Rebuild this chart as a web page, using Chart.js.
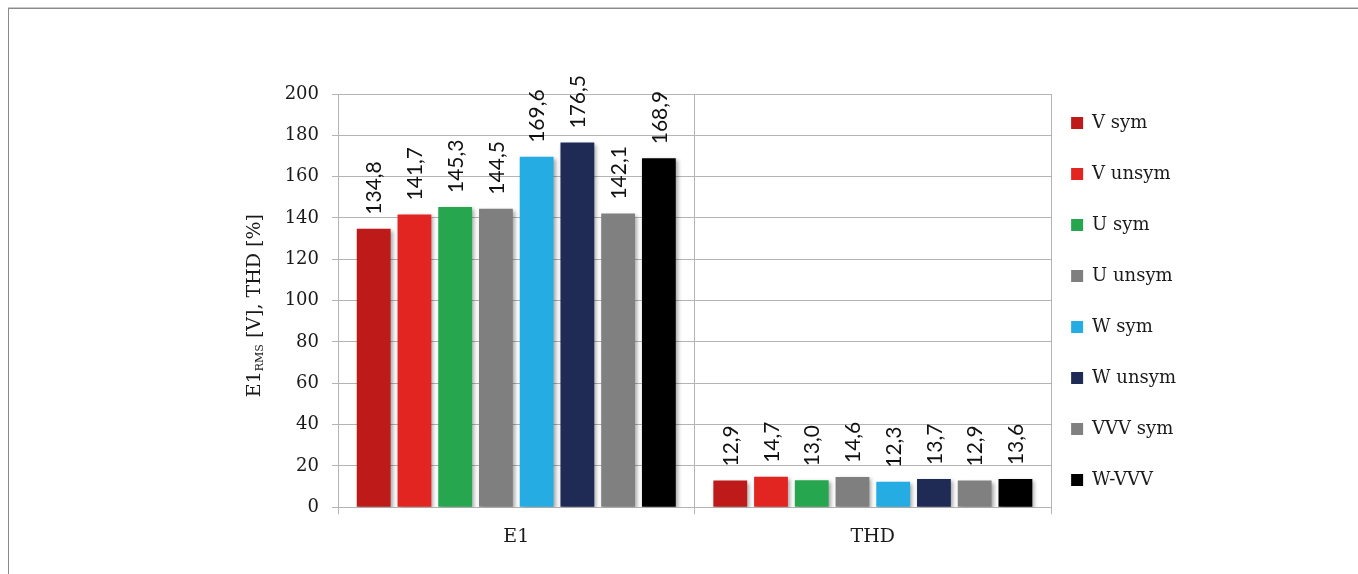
<!DOCTYPE html>
<html>
<head>
<meta charset="utf-8">
<title>E1 RMS and THD</title>
<script src="https://cdn.jsdelivr.net/npm/chart.js@4.4.1/dist/chart.umd.min.js"></script>
<style>
  html, body { margin: 0; padding: 0; background: #ffffff; }
  #wrap { position: relative; width: 1358px; height: 574px; overflow: hidden; }
  #frame { position: absolute; left: 8px; top: 8px; width: 1400px; height: 600px;
           border-top: 1px solid #8a8a8a; border-left: 1px solid #8a8a8a;
           box-shadow: 0 -1px 0 #c8c8c8; }
  #chart { position: absolute; left: 0; top: 0; }
</style>
</head>
<body>
<div id="wrap">
  <div id="frame"></div>
  <canvas id="chart" width="1358" height="574"></canvas>
</div>
<script>
// Categories on the x axis
const categories = ['E1', 'THD'];

// Series: [E1 RMS (V), THD (%)]
const seriesNames = ['V sym', 'V unsym', 'U sym', 'U unsym', 'W sym', 'W unsym', 'VVV sym', 'W-VVV'];
const vSym    = [134.8, 12.9];
const vUnsym  = [141.7, 14.7];
const uSym    = [145.3, 13.0];
const uUnsym  = [144.5, 14.6];
const wSym    = [169.6, 12.3];
const wUnsym  = [176.5, 13.7];
const vvvSym  = [142.1, 12.9];
const wVvv    = [168.9, 13.6];

const seriesColors = ['#be1a1a', '#e32521', '#27a650', '#7f7f7f', '#25ade3', '#1f2a55', '#808080', '#000000'];

// Y axis ticks
const yMin = 0, yMax = 200, yStep = 20;

const seriesValues = [vSym, vUnsym, uSym, uUnsym, wSym, wUnsym, vvvSym, wVvv];

const serif = "'DejaVu Serif', 'Liberation Serif', serif";
const gridColor = '#b4b4b4';

// Soft drop shadow under the bars
const barShadow = {
  id: 'barShadow',
  beforeDatasetsDraw(chart) {
    const ctx = chart.ctx;
    ctx.save();
    ctx.shadowColor = 'rgba(0,0,0,0.35)';
    ctx.shadowBlur = 4;
    ctx.shadowOffsetX = 2;
    ctx.shadowOffsetY = 2;
  },
  afterDatasetsDraw(chart) {
    chart.ctx.restore();
  }
};

// Vertical value labels above each bar (comma decimal separator)
const valueLabels = {
  id: 'valueLabels',
  afterDatasetsDraw(chart) {
    const ctx = chart.ctx;
    ctx.save();
    ctx.font = "21px Lato, 'Open Sans', sans-serif";
    ctx.fillStyle = '#111111';
    ctx.textAlign = 'left';
    ctx.textBaseline = 'middle';
    chart.data.datasets.forEach((ds, di) => {
      const meta = chart.getDatasetMeta(di);
      meta.data.forEach((bar, i) => {
        const txt = ds.data[i].toFixed(1).replace('.', ',');
        ctx.save();
        ctx.translate(bar.x, bar.y - 14);
        ctx.rotate(-Math.PI / 2);
        ctx.fillText(txt, 0, 1);
        ctx.restore();
      });
    });
    ctx.restore();
  }
};

// Y axis title with subscript "RMS"
const yTitle = {
  id: 'yTitle',
  afterDraw(chart) {
    const ctx = chart.ctx;
    const area = chart.chartArea;
    const cx = 255;
    const cy = (area.top + area.bottom) / 2 + 5;
    const big = '19px ' + serif;
    const small = '11px ' + serif;
    const parts = [
      { t: 'E1', f: big, dy: 0 },
      { t: 'RMS', f: small, dy: 5 },
      { t: ' [V], THD [%]', f: big, dy: 0 }
    ];
    ctx.save();
    let total = 0;
    parts.forEach(p => { ctx.font = p.f; p.w = ctx.measureText(p.t).width; total += p.w; });
    ctx.translate(cx, cy);
    ctx.rotate(-Math.PI / 2);
    ctx.fillStyle = '#1a1a1a';
    ctx.textBaseline = 'middle';
    ctx.textAlign = 'left';
    let x = -total / 2;
    parts.forEach(p => {
      ctx.font = p.f;
      ctx.fillText(p.t, x, p.dy);
      x += p.w;
    });
    ctx.restore();
  }
};

const datasets = seriesNames.map((name, i) => ({
  label: name,
  data: seriesValues[i],
  backgroundColor: seriesColors[i],
  borderWidth: 0,
  categoryPercentage: 0.914,
  barPercentage: 0.83
}));

new Chart(document.getElementById('chart'), {
  type: 'bar',
  data: { labels: categories, datasets },
  options: {
    responsive: false,
    animation: false,
    events: [],
    layout: { padding: { left: 278, top: 94, right: 172, bottom: 15 } },
    scales: {
      x: {
        grid: { display: true, offset: true, color: gridColor, lineWidth: 1, tickLength: 7, drawTicks: true },
        border: { color: gridColor },
        ticks: { color: '#1a1a1a', font: { family: serif, size: 19 }, padding: 11 }
      },
      y: {
        min: yMin,
        max: yMax,
        grid: { color: gridColor, tickLength: 6 },
        border: { color: gridColor },
        ticks: { stepSize: yStep, color: '#1a1a1a', font: { family: serif, size: 18 }, padding: 13 },
        afterFit(scale) { scale.width = 60; }
      }
    },
    plugins: {
      tooltip: { enabled: false },
      legend: {
        position: 'right',
        align: 'start',
        labels: {
          boxWidth: 12,
          boxHeight: 12,
          padding: 20,
          color: '#1a1a1a',
          font: { family: serif, size: 18, lineHeight: 31 / 18 },
          generateLabels(chart) {
            const items = Chart.defaults.plugins.legend.labels.generateLabels(chart);
            return items.map(it => Object.assign(it, { text: [it.text], lineWidth: 0 }));
          }
        }
      }
    }
  },
  plugins: [barShadow, valueLabels, yTitle]
});
</script>
</body>
</html>
